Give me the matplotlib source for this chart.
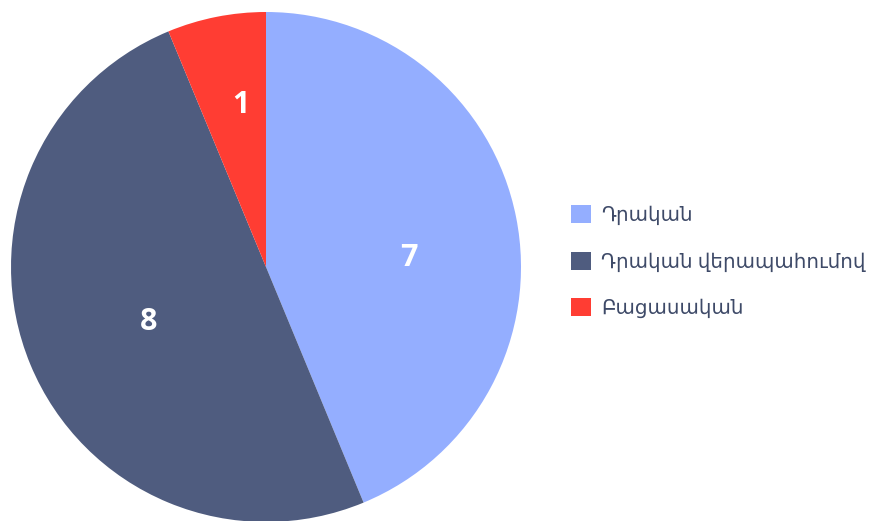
import matplotlib.pyplot as plt
from matplotlib.patches import Patch

# data
labels = ["Դրական", "Դրական վերապահումով", "Բացասական"]
values = [7, 8, 1]
colors = ["#94AEFF", "#4F5C7F", "#FF3D33"]

# where the value labels sit inside each slice (x, y in pie radius units)
label_pos = [(0.56, 0.035), (-0.46, -0.216), (-0.10, 0.635)]

fig = plt.figure(figsize=(8.7, 5.21), dpi=100)
ax = fig.add_axes([11 / 870, -1 / 521, 510 / 870, 510 / 521])

wedges, texts, autotexts = ax.pie(
    values,
    colors=colors,
    startangle=90,
    counterclock=False,
    autopct=lambda p: f"{round(p * sum(values) / 100):d}",
    wedgeprops=dict(linewidth=0),
)
for t, pos in zip(autotexts, label_pos):
    t.set_position(pos)
    t.set_color("white")
    t.set_fontsize(22)
    t.set_fontweight("bold")
    t.set_family(["Open Sans", "DejaVu Sans"])
ax.set_xlim(-1, 1)
ax.set_ylim(-1, 1)
ax.set_aspect("equal")

handles = [Patch(facecolor=c, edgecolor="none") for c in colors]
fig.legend(
    handles, labels,
    loc="center left",
    bbox_to_anchor=(553 / 870, 259 / 521),
    frameon=False,
    prop={"family": ["Noto Sans", "DejaVu Sans"], "size": 14.3},
    labelcolor="#3E4A68",
    handlelength=1.03,
    handleheight=1.03,
    handletextpad=0.5,
    labelspacing=1.3,
)

fig.savefig("out.png", dpi=100)
